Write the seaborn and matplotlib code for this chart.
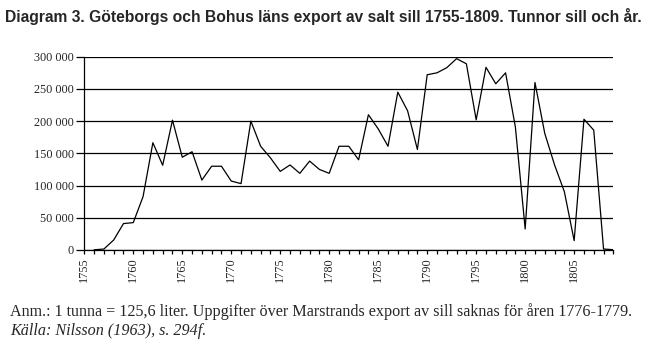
"""Göteborgs och Bohus läns export av salt sill 1755-1809."""
import pandas as pd
import seaborn as sns
from matplotlib import pyplot as plt
from matplotlib.ticker import FuncFormatter, MultipleLocator

years = list(range(1756, 1810))
tunnor = [
    300, 1500, 15500, 41000, 42500, 83000, 166500, 131500, 201500, 144000,
    152500, 108500, 130000, 130000, 107000, 103000, 200000, 161000, 143000, 122000,
    132000, 119000, 138000, 125000, 119000, 161000, 161000, 140000, 210000, 188000,
    161000, 245000, 216000, 156000, 272000, 275000, 283000, 297000, 289000, 202000,
    283500, 258000, 275000, 191000, 32600, 260000, 181000, 132000, 90500, 14500,
    203000, 186000, 1500, 500,
]
tick_years = list(range(1755, 1810, 5))

title = "Diagram 3. Göteborgs och Bohus läns export av salt sill 1755-1809. Tunnor sill och år."
note = "Anm.: 1 tunna = 125,6 liter. Uppgifter över Marstrands export av sill saknas för åren 1776-1779."
source = "Källa: Nilsson (1963), s. 294f."

df = pd.DataFrame({"year": years, "tunnor": tunnor})

sns.set_style("white")
plt.rcParams["font.family"] = ["Liberation Serif", "DejaVu Serif"]

fig = plt.figure(figsize=(6.55, 3.54), dpi=100)
ax = fig.add_axes([0.1287, 0.2938, 0.8077, 0.546])
sns.lineplot(data=df, x="year", y="tunnor", color="black", linewidth=0.9, ax=ax)

ax.set_xlim(1755, 1809)
ax.set_ylim(0, 300000)
ax.yaxis.set_major_locator(MultipleLocator(50000))
ax.yaxis.set_major_formatter(FuncFormatter(lambda v, p: f"{v:,.0f}".replace(",", " ")))
ax.set_xticks(tick_years)
ax.set_xticklabels([str(y) for y in tick_years], rotation=90)
ax.xaxis.set_minor_locator(MultipleLocator(1))
ax.grid(axis="y", color="black", linewidth=0.9)
ax.set_axisbelow(True)
ax.set_xlabel("")
ax.set_ylabel("")

for side in ["top", "right"]:
    ax.spines[side].set_visible(False)
for side in ["left", "bottom"]:
    ax.spines[side].set_color("black")
    ax.spines[side].set_linewidth(0.9)

ax.tick_params(axis="y", which="major", direction="out", length=6, width=0.9,
               color="black", labelsize=8.8, pad=1.5, left=True)
ax.tick_params(axis="x", which="both", direction="out", length=3.2, width=0.9,
               color="black", labelsize=8.8, pad=2, bottom=True)

fig.text(0.008, 0.952, title, family=["Liberation Sans", "DejaVu Sans"],
         fontweight="bold", fontsize=11.25, va="center", ha="left")
fig.text(0.015, 0.121, note, fontsize=11.6, va="center", ha="left")
fig.text(0.015, 0.065, source, fontsize=11.6, style="italic", va="center", ha="left")

fig.savefig("out.png", dpi=100)
